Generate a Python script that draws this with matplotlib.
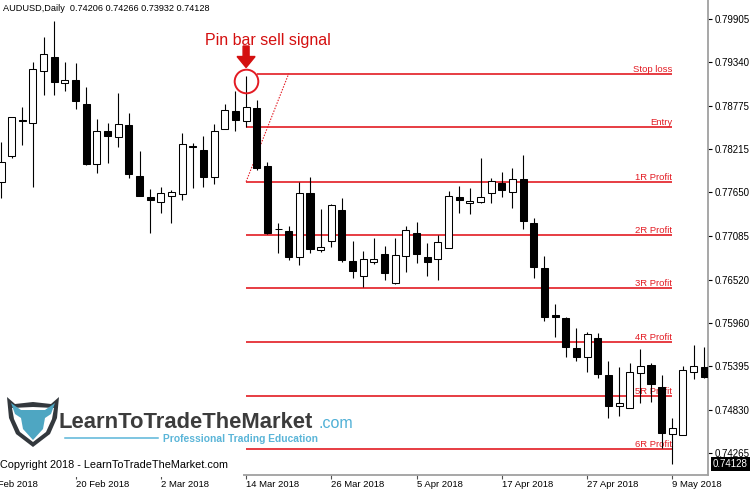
import numpy as np
import pandas as pd
import matplotlib
matplotlib.use("Agg")
import matplotlib.pyplot as plt
from matplotlib.patches import Polygon, Rectangle
from matplotlib.transforms import Affine2D, offset_copy

plt.rcParams['font.family'] = ['Liberation Sans', 'DejaVu Sans']

# AUDUSD daily candles
symbol = "AUDUSD,Daily"
last_quote = [0.74206, 0.74266, 0.73932, 0.74128]
first_date = "2018-02-08"  # one bar before the first visible candle

opens = [0.77790, 0.78127, 0.78591, 0.78556, 0.79232, 0.79405, 0.79067, 0.79106, 0.78795, 0.78020,
         0.78448, 0.78366, 0.78526, 0.77868, 0.77595, 0.77522, 0.77608, 0.77626, 0.78258, 0.78205,
         0.77847, 0.78474, 0.78708, 0.78574, 0.78751, 0.77993, 0.77180, 0.77149, 0.76817, 0.77643,
         0.76903, 0.77020, 0.77427, 0.76760, 0.76566, 0.76743, 0.76851, 0.76471, 0.76825, 0.77121,
         0.76809, 0.76782, 0.76933, 0.77595, 0.77509, 0.77522, 0.77639, 0.77770, 0.77661, 0.77822,
         0.77253, 0.76665, 0.76060, 0.76024, 0.75635, 0.75510, 0.75757, 0.75276, 0.74878, 0.74856,
         0.75302, 0.75410, 0.75129, 0.74511, 0.74502, 0.75315, 0.75380]
highs = [0.78309, 0.78632, 0.78756, 0.79347, 0.79665, 0.79877, 0.79347, 0.79335, 0.79016, 0.78600,
         0.78548, 0.78938, 0.78678, 0.78189, 0.77695, 0.77725, 0.77682, 0.78419, 0.78296, 0.78384,
         0.78535, 0.78795, 0.78967, 0.79162, 0.78850, 0.78042, 0.77250, 0.77215, 0.77790, 0.77855,
         0.77436, 0.77500, 0.77575, 0.77024, 0.76894, 0.77063, 0.76955, 0.77063, 0.77211, 0.77264,
         0.76994, 0.77098, 0.77673, 0.77734, 0.77712, 0.78094, 0.77834, 0.77912, 0.77972, 0.78132,
         0.77315, 0.76825, 0.76202, 0.76037, 0.75886, 0.75843, 0.75830, 0.75466, 0.75380, 0.75440,
         0.75614, 0.75432, 0.75280, 0.74726, 0.75397, 0.75669, 0.75648]
lows = [0.77575, 0.78094, 0.78267, 0.77725, 0.78916, 0.78916, 0.78971, 0.78730, 0.78011, 0.77899,
        0.78037, 0.78244, 0.77834, 0.77598, 0.77120, 0.77379, 0.77250, 0.77553, 0.77704, 0.77725,
        0.77760, 0.78470, 0.78452, 0.78496, 0.77942, 0.77114, 0.76860, 0.76773, 0.76709, 0.76868,
        0.76881, 0.76946, 0.76751, 0.76535, 0.76426, 0.76722, 0.76513, 0.76467, 0.76621, 0.76731,
        0.76566, 0.76513, 0.76928, 0.77387, 0.77370, 0.77517, 0.77509, 0.77595, 0.77445, 0.77180,
        0.76546, 0.75985, 0.75777, 0.75518, 0.75466, 0.75315, 0.75245, 0.74726, 0.74752, 0.74851,
        0.74920, 0.74933, 0.74328, 0.74125, 0.74498, 0.75225, 0.75238]
closes = [0.78050, 0.78627, 0.78581, 0.79250, 0.79444, 0.79080, 0.79115, 0.78837, 0.78020, 0.78448,
          0.78388, 0.78535, 0.77889, 0.77604, 0.77553, 0.77639, 0.77653, 0.78276, 0.78240, 0.77847,
          0.78448, 0.78721, 0.78591, 0.78756, 0.77972, 0.77120, 0.77175, 0.76809, 0.77639, 0.76912,
          0.76946, 0.77487, 0.76773, 0.76630, 0.76782, 0.76782, 0.76608, 0.76834, 0.77161, 0.76847,
          0.76743, 0.77003, 0.77608, 0.77553, 0.77544, 0.77595, 0.77803, 0.77682, 0.77821, 0.77284,
          0.76687, 0.76037, 0.76037, 0.75640, 0.75518, 0.75808, 0.75293, 0.74878, 0.74920, 0.75323,
          0.75401, 0.75163, 0.74523, 0.74596, 0.75346, 0.75401, 0.75251]

level_names = ["Stop loss", "Entry", "1R Profit", "2R Profit", "3R Profit",
               "4R Profit", "5R Profit", "6R Profit"]
level_prices = [0.79192, 0.78494, 0.77790, 0.77098, 0.76414, 0.75709, 0.75012, 0.74320]

price_ticks = [0.79905, 0.79340, 0.78775, 0.78215, 0.77650, 0.77085,
               0.76520, 0.75960, 0.75395, 0.74830, 0.74265]

signal_bar = 23      # the pin bar
levels_end_bar = 63  # the levels stop at this bar
ray_end_bar = 27

red = '#e31b23'
W, H = 754, 492

fig = plt.figure(figsize=(W / 100, H / 100), dpi=100)
ax = fig.add_axes([0, 17 / H, 708 / W, 475 / H])
ax.set_xlim(-0.094, 66.35)
ax.set_ylim(0.739819, 0.80149)

o = np.array(opens); h = np.array(highs); l = np.array(lows); c = np.array(closes)
x = np.arange(len(o))
up = c >= o
body_lo = np.minimum(o, c)
body_h = np.abs(c - o)

ax.vlines(x, l, h, color='black', lw=0.8, zorder=2)
ax.bar(x[up], body_h[up], bottom=body_lo[up], width=0.66, color='white',
       edgecolor='black', lw=0.75, zorder=3)
ax.bar(x[~up], body_h[~up], bottom=body_lo[~up], width=0.66, color='black',
       edgecolor='black', lw=0.75, zorder=3)

# trade levels
for k, (name, p) in enumerate(zip(level_names, level_prices)):
    start = signal_bar + 1 if k == 0 else signal_bar
    ax.hlines(p, start, levels_end_bar, color=red, lw=1.2, zorder=1)
    ax.annotate(name, xy=(levels_end_bar, p), xytext=(0, 2), textcoords='offset pixels',
                ha='right', va='baseline', fontsize=6.8, color=red, zorder=1)

ax.plot([signal_bar, ray_end_bar], [level_prices[2], level_prices[0]], color=red,
        lw=0.8, ls=(0, (1.3, 1.3)), zorder=1)

# pin bar marker: circle, arrow and caption
hi = highs[signal_bar]
ax.plot(signal_bar, hi, marker='o', ms=17, mfc='none', mec=red, mew=1.4,
        transform=offset_copy(ax.transData, fig, 0, -4.5, units='dots'), zorder=5)
px, py = ax.transData.transform((signal_bar, hi))
arrow = [(-3, 30), (3, 30), (3, 19.5), (9, 19.5), (0, 8.5), (-9, 19.5), (-3, 19.5)]
ax.add_patch(Polygon(arrow, closed=True, color='#d40f0f', zorder=6,
                     transform=Affine2D().translate(px, py), clip_on=False))
ax.annotate('Pin bar sell signal', xy=(signal_bar, hi), xytext=(22, 31),
            textcoords='offset pixels', ha='center', va='baseline',
            fontsize=11.5, color='#d40f0f', annotation_clip=False)

# axes styling (MT4 look)
for side in ['top', 'left']:
    ax.spines[side].set_visible(False)
for side in ['right', 'bottom']:
    ax.spines[side].set_color('#a0a0a0')
    ax.spines[side].set_linewidth(1.3)
ax.yaxis.tick_right()
ax.set_yticks(price_ticks, [f"{v:.5f}" for v in price_ticks])
ax.tick_params(axis='y', length=3, width=0.8, color='black', pad=2, labelsize=7)

dates = pd.bdate_range(first_date, periods=len(o) + 1)
tick_pos = list(range(-1, len(o), 8))
tick_labels = [f"{d.day} {d:%b %Y}" for d in dates[::8]]
ax.set_xticks([t for t in tick_pos if t >= 0])
ax.tick_params(axis='x', length=3, width=0.8, color='#505050', labelbottom=False)
for t, lab in zip(tick_pos, tick_labels):
    ax.annotate(lab, xy=(t, 0), xycoords=('data', 'axes fraction'), xytext=(0, -5),
                textcoords='offset pixels', ha='left', va='top', fontsize=6.8,
                annotation_clip=False)

ax.annotate(f"{last_quote[3]:.5f}", xy=(1, last_quote[3]), xycoords=('axes fraction', 'data'),
            xytext=(5, 0), textcoords='offset pixels', ha='left', va='center',
            fontsize=7, color='white', annotation_clip=False,
            bbox=dict(fc='black', ec='none', pad=1.4))

# overlay in pixel units for header, copyright and logo
deco = fig.add_axes([0, 0, 1, 1], zorder=5)
deco.set_xlim(0, W)
deco.set_ylim(H, 0)
deco.axis('off')

deco.text(3, 8.5, f"{symbol}  " + " ".join(f"{v:.5f}" for v in last_quote),
          va='center', fontsize=6.6, color='black')
deco.add_patch(Rectangle((0, 459), 243, 18, fc='white', ec='none'))
deco.text(0, 468.5, "Copyright 2018 - LearnToTradeTheMarket.com", va='baseline',
          fontsize=7.8, color='black')

shield = [(7, 397), (15, 404), (33, 402), (51, 404), (59, 397), (57, 418),
          (50, 434), (33, 447), (16, 434), (9, 418)]
gap = [(12, 408), (33, 407), (54, 408), (52, 419), (46, 432), (33, 442),
       (20, 432), (14, 419)]
face = [(11, 403), (21, 410), (45, 410), (55, 403), (51, 414), (45, 418),
        (43, 429), (33, 440), (23, 429), (21, 418), (15, 414)]
deco.add_patch(Polygon(shield, closed=True, fc='#33383d', ec='none'))
deco.add_patch(Polygon(gap, closed=True, fc='white', ec='none'))
deco.add_patch(Polygon(face, closed=True, fc='#4ea6c2', ec='none'))

deco.text(59, 428, 'LearnToTradeTheMarket', fontsize=15.8, weight='bold',
          color='#3c3c3c', va='baseline')
deco.text(319, 428, '.com', fontsize=11.5, color='#4fb0d6', va='baseline')
deco.text(163, 441.5, 'Professional Trading Education', fontsize=7.4, weight='bold',
          color='#5ab5d8', va='baseline')
deco.plot([65, 158], [437.5, 437.5], color='#5ab5d8', lw=1.1)

fig.savefig('out.png', dpi=100)
